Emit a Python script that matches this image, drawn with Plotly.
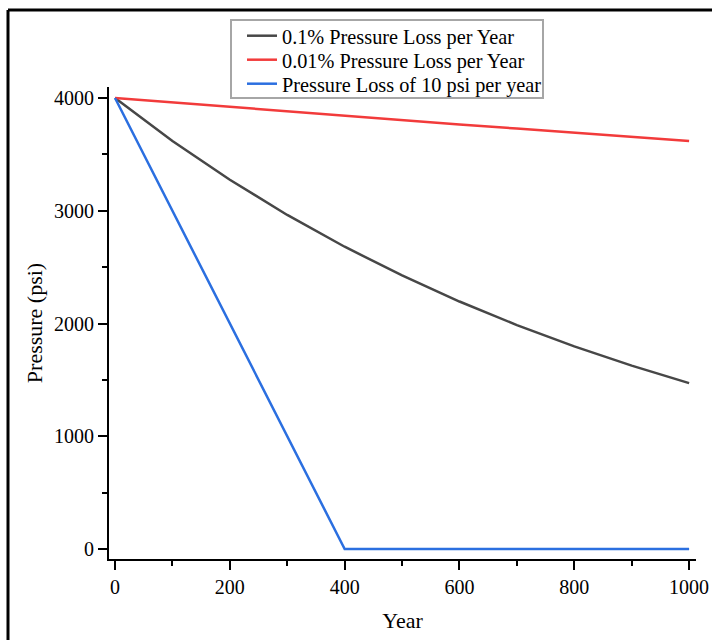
import plotly.graph_objects as go

years = [0, 100, 200, 300, 400, 500, 600, 700, 800, 900, 1000]
loss_01pct = [4000, 3619, 3275, 2963, 2681, 2426, 2195, 1986, 1797, 1626, 1471]
loss_001pct = [4000, 3960, 3921, 3882, 3843, 3805, 3766, 3729, 3692, 3655, 3619]
loss_10psi = [4000, 3000, 2000, 1000, 0, 0, 0, 0, 0, 0, 0]

names = ["0.1% Pressure Loss per Year", "0.01% Pressure Loss per Year",
         "Pressure Loss of 10 psi per year"]
colors = ["#474747", "#f23b3b", "#2b6fe0"]
legend_ids = ["legend", "legend2", "legend3"]

FONT = "Liberation Serif, Times New Roman, serif"

fig = go.Figure()
for name, ys, c, lg in zip(names, [loss_01pct, loss_001pct, loss_10psi], colors, legend_ids):
    fig.add_trace(go.Scatter(x=years, y=ys, mode="lines", name=name, legend=lg,
                             line=dict(color=c, width=2.5)))

axis_common = dict(
    showline=True, linecolor="black", linewidth=2, mirror=False,
    ticks="outside", ticklen=9, tickwidth=2, tickcolor="black",
    showgrid=False, zeroline=False, automargin=False,
    tickfont=dict(family=FONT, size=20, color="black"),
    ticklabeloverflow="allow",
)

# plot area: 587 x 472 px (left 109, top 87 in page pixels)
PW, PH = 587.0, 472.0
def px_x(p):
    return (p - 109) / PW
def px_y(p):
    return (559 - p) / PH

leg_common = dict(xanchor="left", yanchor="middle", bgcolor="rgba(0,0,0,0)",
                  borderwidth=0, font=dict(family=FONT, size=20.3, color="black"))

fig.update_layout(
    width=712, height=640,
    margin=dict(l=109, r=16, t=87, b=81, autoexpand=False),
    paper_bgcolor="white", plot_bgcolor="white",
    font=dict(family=FONT, color="black"),
    xaxis=dict(range=[-10.5, 1012], tickvals=[0, 200, 400, 600, 800, 1000],
               minor=dict(ticks="outside", ticklen=5, tickwidth=2, tickcolor="black",
                          tickvals=[100, 300, 500, 700, 900]),
               title=dict(text="Year", font=dict(family=FONT, size=22), standoff=16),
               **axis_common),
    yaxis=dict(range=[-89, 4098], tickvals=[0, 1000, 2000, 3000, 4000],
               minor=dict(ticks="outside", ticklen=5, tickwidth=2, tickcolor="black",
                          tickvals=[500, 1500, 2500, 3500]),
               title=dict(text="Pressure (psi)", font=dict(family=FONT, size=22), standoff=5),
               **axis_common),
    legend=dict(x=px_x(242), y=px_y(36), **leg_common),
    legend2=dict(x=px_x(242), y=px_y(60), **leg_common),
    legend3=dict(x=px_x(242), y=px_y(84), **leg_common),
    showlegend=True,
)

# legend box
fig.add_shape(type="rect", xref="paper", yref="paper", layer="above",
              x0=px_x(231), x1=px_x(543), y0=px_y(98), y1=px_y(20),
              fillcolor="white", line=dict(color="#a6a6a6", width=2))

# outer figure frame (top and left edges visible in the reference)
fig.add_shape(type="line", xref="paper", yref="paper",
              x0=px_x(8), x1=px_x(8), y0=-0.5, y1=px_y(10),
              line=dict(color="black", width=3))
fig.add_shape(type="line", xref="paper", yref="paper",
              x0=px_x(8), x1=1.2, y0=px_y(10), y1=px_y(10),
              line=dict(color="black", width=3))

fig.write_html("out.html",
               config={"displayModeBar": False},
               post_script="document.body.style.margin='0px';"
                           "document.body.style.overflow='hidden';")
